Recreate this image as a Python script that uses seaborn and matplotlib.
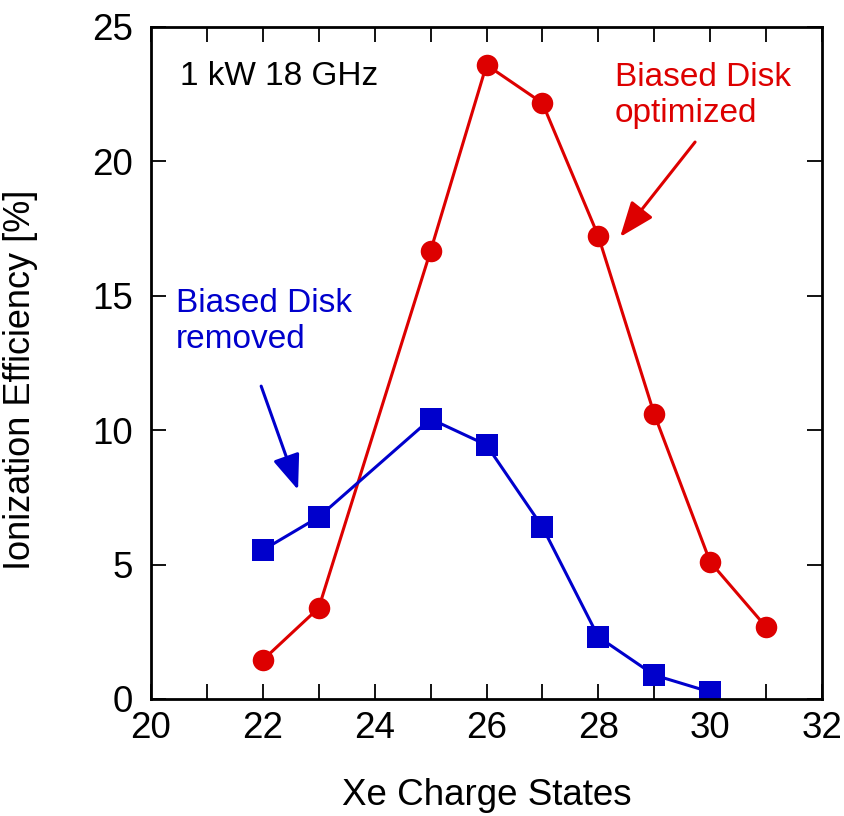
import matplotlib
matplotlib.use("Agg")
import matplotlib.pyplot as plt
import seaborn as sns
import pandas as pd

# charge states and ionization efficiency [%]
charge_on = [22, 23, 25, 26, 27, 28, 29, 30, 31]
eff_on = [1.45, 3.39, 16.67, 23.59, 22.17, 17.22, 10.6, 5.1, 2.68]
charge_off = [22, 23, 25, 26, 27, 28, 29, 30]
eff_off = [5.54, 6.77, 10.42, 9.45, 6.4, 2.31, 0.89, 0.26]

RED = "#dd0000"
BLUE = "#0000cc"

sns.set_style("ticks")
plt.rcParams["font.family"] = ["Liberation Sans", "DejaVu Sans"]
plt.rcParams["font.size"] = 24
plt.rcParams["text.color"] = "black"
plt.rcParams["axes.labelcolor"] = "black"

df_on = pd.DataFrame({"q": charge_on, "eff": eff_on})
df_off = pd.DataFrame({"q": charge_off, "eff": eff_off})

fig = plt.figure(figsize=(8.45, 8.16), dpi=100)
ax = fig.add_axes([151 / 845, 1 - 699 / 816, 671 / 845, 672 / 816])

sns.lineplot(data=df_on, x="q", y="eff", ax=ax, color=RED, lw=2.2,
             marker="o", markersize=15.5, markeredgewidth=0)
sns.lineplot(data=df_off, x="q", y="eff", ax=ax, color=BLUE, lw=2.2,
             marker="s", markersize=15.5, markeredgewidth=0)

ax.set_xlim(20, 32)
ax.set_ylim(0, 25)
ax.set_xticks(range(20, 33, 2))
ax.set_xticks(range(21, 33, 2), minor=True)
ax.set_yticks(range(0, 26, 5))
ax.tick_params(which="both", direction="in", top=True, right=True,
               length=11, width=1.3, labelsize=26.5, colors="black")
ax.tick_params(axis="x", pad=9)
ax.tick_params(axis="y", pad=13)
for s in ax.spines.values():
    s.set_linewidth(2)
    s.set_color("black")

ax.set_xlabel("Xe Charge States", fontsize=26.5, color="black")
ax.set_ylabel("Ionization Efficiency [%]", fontsize=26, color="black")
ax.xaxis.set_label_coords(0.5, -0.118)
ax.yaxis.set_label_coords(-0.168, 0.475)

ax.text(20.52, 22.84, "1 kW 18 GHz", fontsize=24, color="black", va="baseline")

ax.text(28.30, 23.7, "Biased Disk\noptimized", fontsize=24, color=RED,
        va="top", ha="left", linespacing=1.2)
ax.annotate("", xy=(28.39, 17.19), xytext=(29.73, 20.72),
            arrowprops=dict(arrowstyle="-|>,head_length=0.9,head_width=0.35",
                            color=RED, lw=2.2, shrinkA=0, shrinkB=0))

ax.text(20.45, 15.3, "Biased Disk\nremoved", fontsize=24, color=BLUE,
        va="top", ha="left", linespacing=1.2)
ax.annotate("", xy=(22.63, 7.78), xytext=(21.97, 11.64),
            arrowprops=dict(arrowstyle="-|>,head_length=0.9,head_width=0.35",
                            color=BLUE, lw=2.2, shrinkA=0, shrinkB=0))

fig.savefig("out.png", dpi=100)
